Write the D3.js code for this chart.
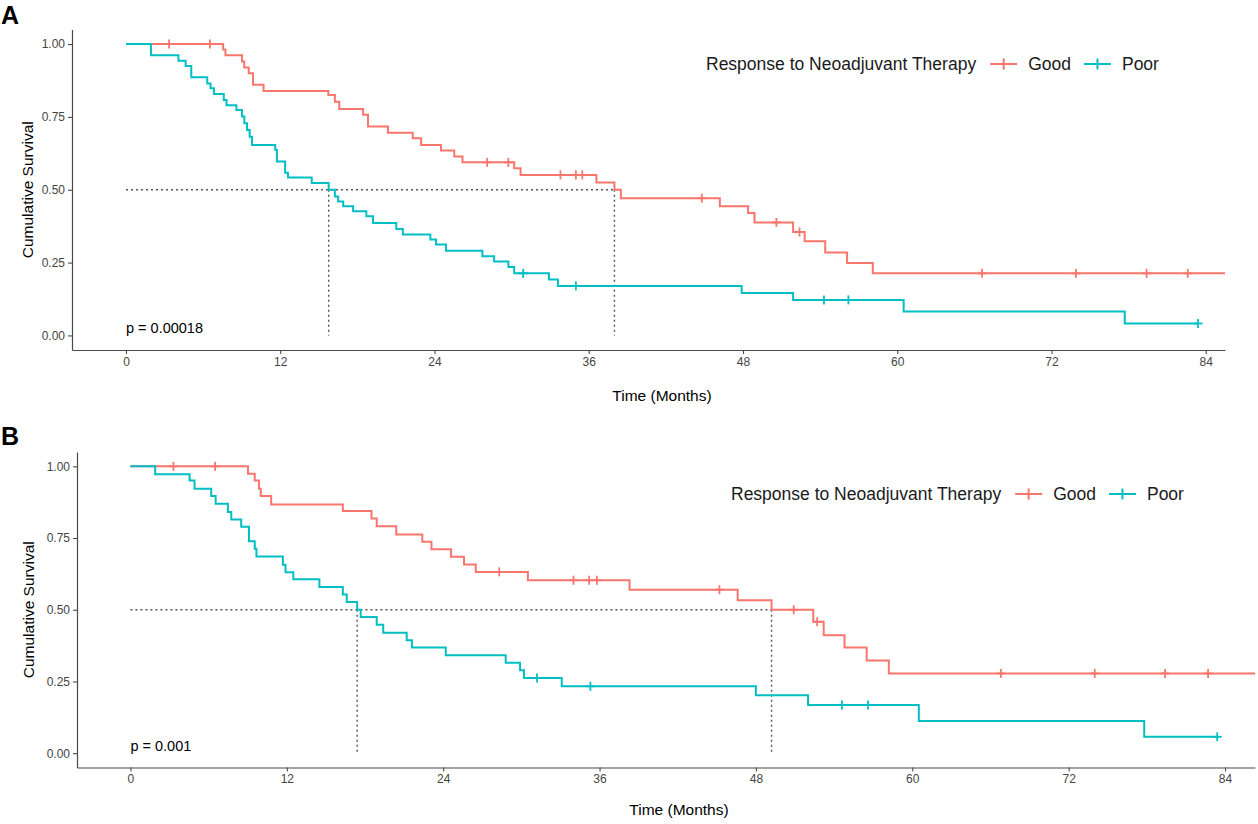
<!DOCTYPE html>
<html>
<head>
<meta charset="utf-8">
<script src="https://cdn.jsdelivr.net/npm/d3@7"></script>
<style>
  html, body { margin: 0; padding: 0; background: #ffffff; }
  svg { display: block; font-family: "Liberation Sans", Arial, sans-serif; }
</style>
</head>
<body>
<svg id="chart" width="1258" height="824"></svg>
<script>
// ---------- DATA ----------
const groups = ["Good", "Poor"];
const legendTitle = "Response to Neoadjuvant Therapy";
const xTicks = [0, 12, 24, 36, 48, 60, 72, 84];
const yTicks = [0, 0.25, 0.5, 0.75, 1];

// Panel A: step drops [time (months), survival after drop]
const goodStepsA = [[7.56,0.981],[7.74,0.962],[9.03,0.94],[9.2,0.92],[9.55,0.90],[9.88,0.86],[10.7,0.839],
  [15.74,0.825],[16.25,0.802],[16.59,0.777],[18.45,0.757],[18.83,0.717],[20.38,0.696],[22.31,0.677],
  [22.96,0.654],[24.51,0.635],[25.54,0.614],[26.18,0.594],[30.2,0.574],[30.7,0.551],[36.6,0.525],
  [38.0,0.5],[38.5,0.471],[46.2,0.443],[48.4,0.420],[48.9,0.388],[51.9,0.355],[52.8,0.323],
  [54.4,0.285],[56.1,0.249],[58.1,0.213]];
const goodCensorA = [3.35, 6.53, 28.1, 29.75, 33.8, 35.0, 35.5, 44.8, 50.6, 52.4, 66.6, 73.9, 79.4, 82.6];
const goodEndA = 85.5;
const poorStepsA = [[1.94,0.962],[4.08,0.943],[4.64,0.925],[5.08,0.886],[6.32,0.865],[6.58,0.848],[6.84,0.829],
  [7.61,0.808],[7.82,0.790],[8.59,0.774],[9.03,0.751],[9.21,0.728],[9.42,0.705],[9.62,0.682],[9.80,0.654],
  [11.61,0.637],[11.74,0.597],[12.38,0.558],[12.6,0.542],[14.45,0.523],[15.77,0.5],[16.25,0.477],
  [16.51,0.46],[16.9,0.443],[17.67,0.426],[18.7,0.409],[19.22,0.386],[21.03,0.365],[21.54,0.346],
  [23.68,0.329],[24.12,0.312],[24.9,0.291],[27.73,0.272],[28.64,0.254],[29.75,0.235],[30.2,0.213],
  [32.9,0.192],[33.6,0.170],[47.9,0.146],[51.9,0.122],[60.5,0.082],[77.7,0.041]];
const poorCensorA = [30.9, 35.0, 54.3, 56.2, 83.4];
const poorEndA = 83.4;
const mediansA = [38.0, 15.77];
const pTextA = "p = 0.00018";

// Panel B
const goodStepsB = [[9.02,0.974],[9.54,0.951],[9.87,0.922],[10.0,0.897],[10.8,0.867],[16.3,0.844],[18.5,0.818],
  [18.9,0.791],[20.4,0.762],[22.4,0.737],[23.1,0.711],[24.6,0.685],[25.6,0.658],[26.5,0.632],[30.5,0.603],
  [38.3,0.570],[46.6,0.533],[49.2,0.5],[52.4,0.458],[53.2,0.411],[54.8,0.368],[56.5,0.323],[58.2,0.278]];
const goodCensorB = [3.3, 6.5, 28.3, 34.0, 35.2, 35.8, 45.2, 50.9, 52.7, 66.8, 74.0, 79.4, 82.7];
const goodEndB = 86.3;
const poorStepsB = [[1.9,0.972],[4.54,0.951],[4.92,0.922],[6.2,0.897],[6.54,0.870],[7.48,0.841],[7.74,0.815],
  [8.5,0.789],[9.1,0.739],[9.54,0.713],[9.67,0.686],[11.7,0.657],[11.9,0.631],[12.5,0.606],[14.5,0.579],
  [16.3,0.553],[16.6,0.527],[17.4,0.5],[17.67,0.475],[18.9,0.448],[19.4,0.42],[21.2,0.394],[21.6,0.368],
  [24.2,0.341],[28.8,0.315],[29.9,0.289],[30.2,0.262],[33.1,0.233],[48.0,0.202],[52.0,0.168],
  [60.5,0.112],[77.8,0.057]];
const poorCensorB = [31.2, 35.3, 54.6, 56.6, 83.4];
const poorEndB = 83.4;
const mediansB = [49.2, 17.4];
const pTextB = "p = 0.001";

// ---------- DRAW ----------
const colors = {Good: "#F8766D", Poor: "#00BFC4"};
const svg = d3.select("#chart");

function survAt(steps, t) {
  let s = 1;
  for (const [tt, v] of steps) { if (tt <= t + 1e-9) s = v; else break; }
  return s;
}

function drawPanel(cfg) {
  const g = svg.append("g");
  const x = d3.scaleLinear().domain(cfg.xDomain).range(cfg.xRange);
  const y = d3.scaleLinear().domain([-0.05, 1.05]).range(cfg.yRange);

  // panel letter
  svg.append("text").attr("x", 1).attr("y", cfg.letterY).attr("font-size", 25)
    .attr("font-weight", "bold").attr("fill", "#000").text(cfg.letter);

  // axes
  const yAxis = d3.axisLeft(y).tickValues(yTicks).tickFormat(d3.format(".2f")).tickSize(4).tickSizeOuter(0);
  const xAxis = d3.axisBottom(x).tickValues(xTicks).tickSize(4).tickSizeOuter(0);
  const ya = g.append("g").attr("transform", `translate(${cfg.xRange[0]},0)`).call(yAxis);
  const xa = g.append("g").attr("transform", `translate(0,${cfg.yRange[0]})`).call(xAxis);
  [ya, xa].forEach(a => {
    a.select(".domain").attr("stroke", "#4a4a4a").attr("stroke-width", 1.2);
    a.selectAll(".tick line").attr("stroke", "#4a4a4a").attr("stroke-width", 1.1);
    a.selectAll(".tick text").attr("fill", "#454545").attr("font-size", 12)
      .attr("font-family", "Liberation Sans, Arial, sans-serif");
  });

  // axis titles
  g.append("text").attr("transform", `translate(${cfg.yTitleX},${(cfg.yRange[0] + cfg.yRange[1]) / 2}) rotate(-90)`)
    .attr("text-anchor", "middle").attr("dominant-baseline", "central")
    .attr("font-size", 15.5).attr("fill", "#000").text("Cumulative Survival");
  g.append("text").attr("x", cfg.xTitleX).attr("y", cfg.xTitleY).attr("text-anchor", "middle")
    .attr("font-size", 15.5).attr("fill", "#000").text("Time (Months)");

  // median lines
  const maxMed = d3.max(cfg.medians);
  const dot = {stroke: "#555", "stroke-width": 1.4, "stroke-dasharray": "2,3"};
  const hl = g.append("line").attr("x1", x(0)).attr("x2", x(maxMed)).attr("y1", y(0.5)).attr("y2", y(0.5));
  Object.entries(dot).forEach(([k, v]) => hl.attr(k, v));
  cfg.medians.forEach(m => {
    const vl = g.append("line").attr("x1", x(m)).attr("x2", x(m)).attr("y1", y(0.5)).attr("y2", y(0));
    Object.entries(dot).forEach(([k, v]) => vl.attr(k, v));
  });

  // curves
  const line = d3.line().x(d => x(d[0])).y(d => y(d[1])).curve(d3.curveStepAfter);
  cfg.series.forEach(s => {
    const pts = [[0, 1], ...s.steps, [s.end, s.steps[s.steps.length - 1][1]]];
    g.append("path").datum(pts).attr("d", line).attr("fill", "none")
      .attr("stroke", colors[s.name]).attr("stroke-width", 2);
    s.censor.forEach(c => {
      const cx = x(c), cy = y(survAt(s.steps, c));
      g.append("line").attr("x1", cx - 4.5).attr("x2", cx + 4.5).attr("y1", cy).attr("y2", cy)
        .attr("stroke", colors[s.name]).attr("stroke-width", 1.8);
      g.append("line").attr("x1", cx).attr("x2", cx).attr("y1", cy - 4.5).attr("y2", cy + 4.5)
        .attr("stroke", colors[s.name]).attr("stroke-width", 1.8);
    });
  });

  // p value
  g.append("text").attr("x", x(0)).attr("y", cfg.pY).attr("font-size", 14.5).attr("fill", "#000").text(cfg.pText);

  // legend
  const lg = g.append("g").attr("transform", `translate(${cfg.legendX},${cfg.legendY})`);
  const t = lg.append("text").attr("x", 0).attr("y", 0).attr("dominant-baseline", "central")
    .attr("font-size", 17.5).attr("fill", "#1a1a1a").text(legendTitle);
  let cx = t.node().getComputedTextLength() + 14;
  groups.forEach(name => {
    lg.append("line").attr("x1", cx).attr("x2", cx + 27).attr("y1", 0).attr("y2", 0)
      .attr("stroke", colors[name]).attr("stroke-width", 2);
    lg.append("line").attr("x1", cx + 13.5).attr("x2", cx + 13.5).attr("y1", -5.5).attr("y2", 5.5)
      .attr("stroke", colors[name]).attr("stroke-width", 2);
    cx += 27 + 11;
    const lt = lg.append("text").attr("x", cx).attr("y", 0).attr("dominant-baseline", "central")
      .attr("font-size", 17.5).attr("fill", "#1a1a1a").text(name);
    cx += lt.node().getComputedTextLength() + 13;
  });
}

drawPanel({
  letter: "A", letterY: 24,
  xDomain: [-4.2, 85.5], xRange: [72, 1225], yRange: [350, 29.5],
  yTitleX: 27, xTitleX: 662, xTitleY: 401,
  medians: mediansA, pText: pTextA, pY: 333,
  legendX: 706, legendY: 64,
  series: [
    {name: "Good", steps: goodStepsA, censor: goodCensorA, end: goodEndA},
    {name: "Poor", steps: poorStepsA, censor: poorCensorA, end: poorEndA}
  ]
});

drawPanel({
  letter: "B", letterY: 445,
  xDomain: [-4.1, 86.3], xRange: [77, 1255], yRange: [767.5, 452],
  yTitleX: 28, xTitleX: 679, xTitleY: 815,
  medians: mediansB, pText: pTextB, pY: 751,
  legendX: 731, legendY: 494,
  series: [
    {name: "Good", steps: goodStepsB, censor: goodCensorB, end: goodEndB},
    {name: "Poor", steps: poorStepsB, censor: poorCensorB, end: poorEndB}
  ]
});
</script>
</body>
</html>
